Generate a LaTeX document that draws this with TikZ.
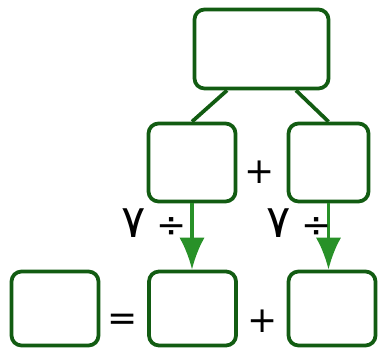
\documentclass[tikz,border=0pt]{standalone}
\usepackage{fontspec}
\usetikzlibrary{arrows.meta,calc}
\newfontfamily\arabicfont[Script=Arabic]{DejaVu Sans}
\newfontfamily\signfont{DejaVu Sans}
\TeXXeTstate=1
\definecolor{boxgreen}{RGB}{18,92,18}
\definecolor{arrgreen}{RGB}{40,145,40}
\newcommand{\bigseven}{{\fontsize{34}{36}\selectfont ٧}}

\begin{document}
\begin{tikzpicture}[x=0.75pt,y=-0.75pt,
	 box/.style={draw=boxgreen,line width=2.8pt,rounded corners=7.5pt,inner sep=0pt},
	 sign/.style={font=\signfont\fontsize{27}{30}\selectfont},
	 step7/.style={font=\arabicfont\fontsize{27}{30}\selectfont}]
	 \useasboundingbox (0,0) rectangle (378,352);
	 %Top
	 \node[box,minimum width=100.5pt,minimum height=59.25pt] (t) at (261.5,49) {};
	 %Middle row
	 \node[box,minimum width=65.25pt,minimum height=58.5pt] (m1) at (192,162.5) {};
	 \node[box,minimum width=60pt,minimum height=58.5pt] (m2) at (328.5,162.5) {};
	 \node[sign] (p1) at (260,172) {+};
	 
	 \draw[boxgreen,line width=2.8pt] ($(t.south west)!0.25!(t.south east)$) to (m1.north);
	 \draw[boxgreen,line width=2.8pt] ($(t.south west)!0.75!(t.south east)$) to (m2.north);
	 
	 %Bottom row
	 \node[box,minimum width=65.25pt,minimum height=55.5pt] (b1) at (55,308.5) {};
	 \node[box,minimum width=65.25pt,minimum height=55.5pt] (b2) at (192.5,308.5) {};
	 \node[box,minimum width=65.25pt,minimum height=55.5pt] (b3) at (332,308.5) {};
	 \node[sign] (eq) at (123,322) {=};
	 \node[sign] (p2) at (263,321) {+};
	 
	 %Arrows
	 \draw[arrgreen,line width=2.8pt,-{Latex[length=24pt,width=19pt]}] (m1.south) -- (m1.south |- b2.north);
	 \draw[arrgreen,line width=2.8pt,-{Latex[length=24pt,width=19pt]}] (m2.south) -- (m2.south |- b3.north);
	 \node[step7,anchor=base] (d1) at (154,238) {\beginR ÷ \bigseven\endR};
	 \node[step7,anchor=base] (d2) at (299,238) {\beginR ÷ \bigseven\endR};
\end{tikzpicture}
\end{document}
